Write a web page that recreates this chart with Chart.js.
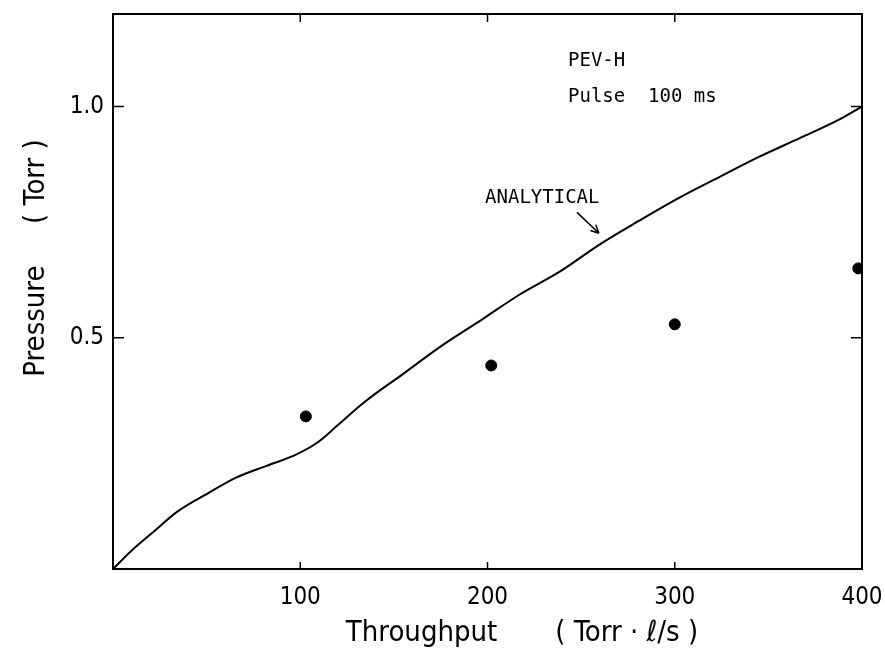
<!DOCTYPE html>
<html>
<head>
<meta charset="utf-8">
<script src="https://cdn.jsdelivr.net/npm/chart.js@4"></script>
<style>
  html, body { margin: 0; padding: 0; background: #fff; }
  #wrap { width: 885px; height: 651px; }
</style>
</head>
<body>
<div id="wrap"><canvas id="pressure"></canvas></div>
<script>
// analytical curve, throughput (Torr l/s) vs pressure (Torr)
const curveX = [0, 10, 21.5, 34, 50, 66, 82, 98, 109, 119.5, 134, 155, 176, 198, 217, 239, 260, 281, 303, 324, 345.5, 367, 388, 400];
const curveY = [0, 0.04, 0.08, 0.123, 0.162, 0.198, 0.223, 0.248, 0.273, 0.309, 0.36, 0.422, 0.484, 0.542, 0.593, 0.644, 0.702, 0.753, 0.804, 0.848, 0.892, 0.932, 0.972, 1.0];

// measured points
const measX = [103, 202, 300, 398];
const measY = [0.330, 0.440, 0.529, 0.650];

const xTicks = [100, 200, 300, 400];
const yTicks = [0.5, 1.0];

const labelFont = "'Liberation Sans Narrow', 'DejaVu Sans Condensed', 'Liberation Sans', sans-serif";
const monoFont = "'DejaVu Sans Mono', 'Liberation Mono', monospace";

const framePlugin = {
  id: 'frame',
  afterDraw(chart) {
    const ctx = chart.ctx;
    const a = chart.chartArea;
    const xs = chart.scales.x;
    const ys = chart.scales.y;
    ctx.save();
    ctx.strokeStyle = '#000';
    ctx.lineWidth = 2;
    ctx.strokeRect(a.left, a.top, a.right - a.left, a.bottom - a.top);

    // inward tick marks
    ctx.lineWidth = 1.5;
    ctx.beginPath();
    yTicks.forEach(v => {
      const py = ys.getPixelForValue(v);
      ctx.moveTo(a.left, py); ctx.lineTo(a.left + 11, py);
      ctx.moveTo(a.right, py); ctx.lineTo(a.right - 11, py);
    });
    xTicks.forEach(v => {
      if (v >= 400) return;
      const px = xs.getPixelForValue(v);
      ctx.moveTo(px, a.bottom); ctx.lineTo(px, a.bottom - 7);
      ctx.moveTo(px, a.top); ctx.lineTo(px, a.top + 8);
    });
    ctx.stroke();

    // notes
    ctx.fillStyle = '#000';
    ctx.font = '19px ' + monoFont;
    ctx.textBaseline = 'middle';
    ctx.textAlign = 'left';
    ctx.fillText('PEV-H', xs.getPixelForValue(243), ys.getPixelForValue(1.098));
    ctx.fillText('Pulse  100 ms', xs.getPixelForValue(243), ys.getPixelForValue(1.020));
    ctx.fillText('ANALYTICAL', xs.getPixelForValue(198.7), ys.getPixelForValue(0.801));

    // arrow to the curve
    const x1 = xs.getPixelForValue(247.8), y1 = ys.getPixelForValue(0.771);
    const x2 = xs.getPixelForValue(259.5), y2 = ys.getPixelForValue(0.726);
    const ang = Math.atan2(y2 - y1, x2 - x1);
    ctx.beginPath();
    ctx.moveTo(x1, y1); ctx.lineTo(x2, y2);
    ctx.moveTo(x2, y2); ctx.lineTo(x2 - 9 * Math.cos(ang - 0.45), y2 - 9 * Math.sin(ang - 0.45));
    ctx.moveTo(x2, y2); ctx.lineTo(x2 - 9 * Math.cos(ang + 0.45), y2 - 9 * Math.sin(ang + 0.45));
    ctx.stroke();

    // axis titles
    ctx.font = '29px ' + labelFont;
    ctx.textAlign = 'center';
    ctx.fillText('Throughput       ( Torr · ℓ/s )', 522, 633);
    ctx.translate(36, 258);
    ctx.rotate(-Math.PI / 2);
    ctx.fillText('Pressure     ( Torr )', 0, 0);
    ctx.restore();
  }
};

const pressureCanvas = document.getElementById('pressure').getContext('2d');

const pressureConfig = {
  type: 'scatter',
  data: {
    datasets: [
      {
        label: 'Analytical',
        data: curveX.map((x, i) => ({ x: x, y: curveY[i] })),
        showLine: true,
        borderColor: '#000',
        borderWidth: 2,
        pointRadius: 0,
        cubicInterpolationMode: 'monotone'
      },
      {
        label: 'Measured',
        data: measX.map((x, i) => ({ x: x, y: measY[i] })),
        showLine: false,
        pointRadius: 5.5,
        backgroundColor: '#000',
        borderColor: '#000'
      }
    ]
  },
  options: {
    responsive: true,
    maintainAspectRatio: false,
    animation: false,
    layout: { padding: { top: 14, right: 23, left: 0, bottom: 0 } },
    scales: {
      x: {
        type: 'linear',
        min: 0,
        max: 400,
        afterBuildTicks: scale => { scale.ticks = xTicks.map(v => ({ value: v })); },
        afterFit: scale => {
          scale.height = 82;
          scale.paddingLeft = 0;
          scale.paddingRight = 0;
        },
        grid: { display: false, drawTicks: false },
        border: { display: true, color: '#000', width: 2 },
        ticks: {
          color: '#000',
          padding: 14,
          maxRotation: 0,
          font: { family: labelFont, size: 24 }
        }
      },
      y: {
        type: 'linear',
        min: 0,
        max: 1.2,
        afterBuildTicks: scale => { scale.ticks = yTicks.map(v => ({ value: v })); },
        afterFit: scale => {
          scale.width = 113;
          scale.paddingTop = 0;
          scale.paddingBottom = 0;
        },
        grid: { display: false, drawTicks: false },
        border: { display: true, color: '#000', width: 2 },
        ticks: {
          color: '#000',
          padding: 9,
          font: { family: labelFont, size: 24 },
          callback: function (value) {
            return value.toFixed(1);
          }
        }
      }
    },
    plugins: {
      legend: { display: false },
      tooltip: { enabled: false }
    }
  },
  plugins: [framePlugin]
};

const pressureChart = new Chart(pressureCanvas, pressureConfig);
</script>
</body>
</html>
